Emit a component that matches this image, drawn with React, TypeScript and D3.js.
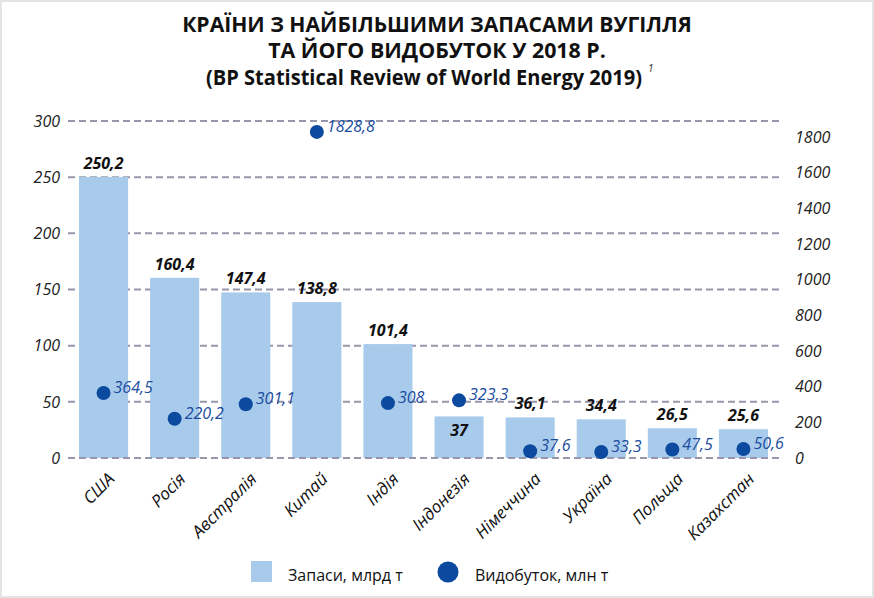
import React from "react";
import * as d3 from "d3";

const countries = ["США", "Росія", "Австралія", "Китай", "Індія", "Індонезія", "Німеччина", "Україна", "Польща", "Казахстан"];
const reserves = [250.2, 160.4, 147.4, 138.8, 101.4, 37, 36.1, 34.4, 26.5, 25.6];
const production = [364.5, 220.2, 301.1, 1828.8, 308, 323.3, 37.6, 33.3, 47.5, 50.6];
const leftTicks = [0, 50, 100, 150, 200, 250, 300];
const rightTicks = [0, 200, 400, 600, 800, 1000, 1200, 1400, 1600, 1800];
const titleLines = ["КРАЇНИ З НАЙБІЛЬШИМИ ЗАПАСАМИ ВУГІЛЛЯ", "ТА ЙОГО ВИДОБУТОК У 2018 Р.", "(BP Statistical Review of World Energy 2019)"];
const titleNote = "1";
const legendLabels = ["Запаси, млрд т", "Видобуток, млн т"];

const W = 874;
const H = 598;
const FONT = "'Open Sans', 'Noto Sans', sans-serif";
const BAR = "#a8cbec";
const DOT = "#0b4a9e";
const DOT_TEXT = "#1a4c9e";
const GRID = "#9896aa";
const TITLE_SIZE = 21;

const fmt = (v: number) => String(v).replace(".", ",");

function measure(text: string, font: string): number {
  const c = document.createElement("canvas");
  const ctx = c.getContext("2d");
  if (!ctx) return text.length * 12;
  ctx.font = font;
  return ctx.measureText(text).width;
}

function TitleLine({ text, cx, y, width }: { text: string; cx: number; y: number; width: number }) {
  const natural = measure(text, `bold ${TITLE_SIZE}px ${FONT}`);
  const s = width / natural;
  return (
    <text transform={`translate(${cx},${y}) scale(${s},1)`} textAnchor="middle" fontWeight={700} fontSize={TITLE_SIZE} fill="#111">
      {text}
    </text>
  );
}

export default function App() {
  const x = d3.scaleBand<string>().domain(countries).range([68, 779]).paddingInner(0.31).paddingOuter(0.155);
  const yL = d3.scaleLinear().domain([0, 300]).range([458, 121]);
  const yR = d3.scaleLinear().domain([0, 1890]).range([458, 121]);
  const bw = x.bandwidth();

  return (
    <div style={{ position: "absolute", left: 0, top: 0 }}>
      <svg width={W} height={H} style={{ display: "block", background: "#fff" }} fontFamily={FONT}>
        <rect x={1} y={1} width={W - 2} height={H - 2} fill="#fff" stroke="#e4e4e4" strokeWidth={2} />
        {/* title */}
        <TitleLine text={titleLines[0]} cx={437} y={32} width={510} />
        <TitleLine text={titleLines[1]} cx={437} y={58} width={338} />
        <TitleLine text={titleLines[2]} cx={424} y={85} width={436} />
        <text x={648} y={72} fontSize={10} fontStyle="italic" fill="#333">{titleNote}</text>

        {/* gridlines */}
        {leftTicks.filter((t) => t > 0).map((t) => (
          <line key={t} x1={68} x2={783} y1={yL(t)} y2={yL(t)} stroke={GRID} strokeWidth={2} strokeDasharray="7,4" />
        ))}
        {/* left axis labels */}
        {leftTicks.map((t) => (
          <text key={t} x={60} y={yL(t)} dy="0.36em" textAnchor="end" fontSize={16} fontStyle="italic" fill="#222">{t}</text>
        ))}
        {/* right axis labels */}
        {rightTicks.map((t) => (
          <text key={t} x={795} y={yR(t)} dy="0.36em" textAnchor="start" fontSize={16} fontStyle="italic" fill="#222">{t}</text>
        ))}

        {/* bars */}
        {countries.map((c, i) => (
          <rect key={c} x={x(c)} y={yL(reserves[i])} width={bw} height={yL(0) - yL(reserves[i])} fill={BAR} />
        ))}
        {/* baseline */}
        <line x1={68} x2={783} y1={yL(0)} y2={yL(0)} stroke={GRID} strokeWidth={2} strokeDasharray="7,4" />

        {/* bar labels */}
        {countries.map((c, i) => {
          const top = yL(reserves[i]);
          const dotY = yR(production[i]);
          const inside = dotY < top && dotY > top - 26;
          return (
            <text key={c} x={(x(c) as number) + bw / 2} y={inside ? top + 20 : top - 8} textAnchor="middle" fontSize={16} fontWeight={700} fontStyle="italic" fill="#111">
              {fmt(reserves[i])}
            </text>
          );
        })}

        {/* dots */}
        {countries.map((c, i) => {
          const cx = (x(c) as number) + bw / 2;
          const cy = yR(production[i]);
          return (
            <g key={c}>
              <circle cx={cx} cy={cy} r={7} fill={DOT} />
              <text x={cx + 10} y={cy} fontSize={16} fontStyle="italic" fill={DOT_TEXT}>{fmt(production[i])}</text>
            </g>
          );
        })}

        {/* x labels */}
        {countries.map((c) => {
          const px = (x(c) as number) + bw / 2 + 12;
          const py = 480;
          return (
            <text key={c} x={px} y={py} transform={`rotate(-45 ${px} ${py})`} textAnchor="end" fontSize={17} fontStyle="italic" fill="#111">{c}</text>
          );
        })}

        {/* legend */}
        <rect x={251} y={561} width={21} height={21} fill={BAR} />
        <text x={288} y={581} fontSize={16} fill="#111">{legendLabels[0]}</text>
        <circle cx={448} cy={572} r={10.5} fill={DOT} />
        <text x={475} y={581} fontSize={16} fill="#111">{legendLabels[1]}</text>
      </svg>
    </div>
  );
}
